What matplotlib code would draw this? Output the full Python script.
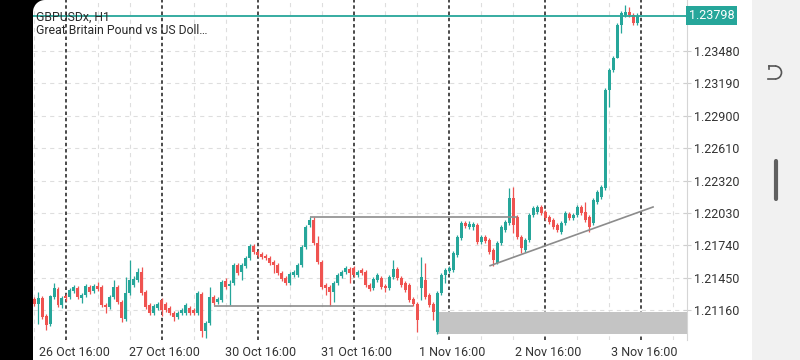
import numpy as np
import matplotlib
matplotlib.use('Agg')
import matplotlib.pyplot as plt
from matplotlib.patches import Rectangle, Polygon, Arc
from matplotlib.lines import Line2D

plt.rcParams['font.family'] = ['Roboto', 'DejaVu Sans']
plt.rcParams['lines.scale_dashes'] = False

# GBPUSDx H1 candles (26 Oct 08:00 .. 3 Nov 15:00)
opens = [
    1.21259, 1.21214, 1.21268, 1.21106, 1.21035, 1.21276, 1.21348, 1.21205, 1.21285, 1.21276,
    1.21330, 1.21357, 1.21268, 1.21294, 1.21366, 1.21330, 1.21375, 1.21366, 1.21205, 1.21187,
    1.21276, 1.21366, 1.21232, 1.21079, 1.21312, 1.21384, 1.21429, 1.21500, 1.21321, 1.21205,
    1.21133, 1.21178, 1.21250, 1.21214, 1.21178, 1.21133, 1.21097, 1.21133, 1.21133, 1.21178,
    1.21160, 1.21133, 1.21303, 1.20972, 1.21043, 1.21276, 1.21232, 1.21250, 1.21420, 1.21375,
    1.21402, 1.21563, 1.21500, 1.21554, 1.21626, 1.21733, 1.21680, 1.21662, 1.21644, 1.21626,
    1.21590, 1.21563, 1.21492, 1.21447, 1.21402, 1.21474, 1.21474, 1.21563, 1.21724, 1.21922,
    1.21966, 1.21760, 1.21590, 1.21384, 1.21366, 1.21321, 1.21402, 1.21465, 1.21500, 1.21527,
    1.21536, 1.21474, 1.21518, 1.21500, 1.21384, 1.21357, 1.21429, 1.21447, 1.21375, 1.21357,
    1.21456, 1.21527, 1.21447, 1.21402, 1.21384, 1.21259, 1.21214, 1.21357, 1.21429, 1.21294,
    1.21214, 1.20963, 1.21312, 1.21474, 1.21509, 1.21518, 1.21653, 1.21805, 1.21940, 1.21904,
    1.21904, 1.21922, 1.21769, 1.21814, 1.21787, 1.21698, 1.21581, 1.21760, 1.21877, 1.21940,
    1.22164, 1.21993, 1.21814, 1.21698, 1.21787, 1.22011, 1.22038, 1.22083, 1.22038, 1.21993,
    1.21966, 1.21922, 1.21859, 1.21940, 1.22020, 1.21984, 1.22011, 1.22083, 1.22038, 1.21993,
    1.21940, 1.22128, 1.22172, 1.22253, 1.23131, 1.23310, 1.23418, 1.23714, 1.23803, 1.23830,
    1.23803, 1.23732]
highs = [
    1.21276, 1.21321, 1.21285, 1.21124, 1.21294, 1.21402, 1.21366, 1.21285, 1.21303, 1.21357,
    1.21384, 1.21375, 1.21312, 1.21393, 1.21384, 1.21393, 1.21411, 1.21384, 1.21223, 1.21294,
    1.21429, 1.21384, 1.21250, 1.21456, 1.21608, 1.21465, 1.21536, 1.21545, 1.21339, 1.21223,
    1.21214, 1.21232, 1.21268, 1.21232, 1.21196, 1.21151, 1.21151, 1.21178, 1.21223, 1.21196,
    1.21178, 1.21330, 1.21321, 1.21061, 1.21366, 1.21294, 1.21276, 1.21429, 1.21447, 1.21429,
    1.21581, 1.21581, 1.21581, 1.21644, 1.21751, 1.21751, 1.21698, 1.21680, 1.21662, 1.21644,
    1.21608, 1.21581, 1.21509, 1.21465, 1.21500, 1.21518, 1.21581, 1.21742, 1.21922, 1.21993,
    1.21993, 1.21823, 1.21608, 1.21402, 1.21384, 1.21420, 1.21492, 1.21518, 1.21554, 1.21545,
    1.21554, 1.21518, 1.21536, 1.21518, 1.21402, 1.21456, 1.21492, 1.21465, 1.21393, 1.21474,
    1.21608, 1.21545, 1.21465, 1.21420, 1.21402, 1.21276, 1.21232, 1.21635, 1.21581, 1.21312,
    1.21232, 1.21330, 1.21492, 1.21536, 1.21554, 1.21689, 1.21832, 1.21957, 1.21957, 1.21957,
    1.21949, 1.21940, 1.21832, 1.21832, 1.21805, 1.21716, 1.21778, 1.21922, 1.21966, 1.22253,
    1.22262, 1.22011, 1.21832, 1.21805, 1.22029, 1.22092, 1.22101, 1.22101, 1.22056, 1.22011,
    1.21984, 1.21940, 1.21957, 1.22047, 1.22038, 1.22029, 1.22101, 1.22101, 1.22128, 1.22011,
    1.22164, 1.22235, 1.22280, 1.23149, 1.23328, 1.23436, 1.23732, 1.23839, 1.23893, 1.23875,
    1.23821, 1.23821]
lows = [
    1.21196, 1.21035, 1.21079, 1.20981, 1.21017, 1.21259, 1.21187, 1.21178, 1.21241, 1.21259,
    1.21312, 1.21259, 1.21223, 1.21276, 1.21303, 1.21312, 1.21330, 1.21187, 1.21133, 1.21169,
    1.21259, 1.21214, 1.21052, 1.21061, 1.21294, 1.21366, 1.21411, 1.21294, 1.21169, 1.21115,
    1.21115, 1.21160, 1.21106, 1.21142, 1.21115, 1.21061, 1.21079, 1.21115, 1.21115, 1.21115,
    1.21115, 1.21115, 1.20918, 1.20909, 1.21026, 1.21205, 1.21214, 1.21232, 1.21348, 1.21205,
    1.21384, 1.21474, 1.21429, 1.21536, 1.21608, 1.21662, 1.21635, 1.21617, 1.21608, 1.21563,
    1.21492, 1.21474, 1.21420, 1.21384, 1.21384, 1.21456, 1.21456, 1.21545, 1.21707, 1.21904,
    1.21742, 1.21572, 1.21348, 1.21294, 1.21196, 1.21232, 1.21384, 1.21447, 1.21483, 1.21402,
    1.21456, 1.21456, 1.21474, 1.21366, 1.21330, 1.21339, 1.21411, 1.21348, 1.21321, 1.21339,
    1.21438, 1.21429, 1.21366, 1.21321, 1.21232, 1.21196, 1.20963, 1.21250, 1.21259, 1.21187,
    1.21070, 1.20945, 1.21294, 1.21402, 1.21492, 1.21500, 1.21635, 1.21787, 1.21895, 1.21886,
    1.21877, 1.21751, 1.21751, 1.21760, 1.21662, 1.21554, 1.21572, 1.21742, 1.21859, 1.21922,
    1.21850, 1.21796, 1.21671, 1.21680, 1.21769, 1.21993, 1.22020, 1.22011, 1.21966, 1.21931,
    1.21886, 1.21859, 1.21841, 1.21922, 1.21966, 1.21966, 1.21993, 1.22011, 1.21949, 1.21859,
    1.21922, 1.22110, 1.22155, 1.22235, 1.22979, 1.23292, 1.23418, 1.23642, 1.23785, 1.23785,
    1.23714, 1.23714]
closes = [
    1.21214, 1.21268, 1.21097, 1.21026, 1.21285, 1.21357, 1.21205, 1.21268, 1.21268, 1.21339,
    1.21366, 1.21276, 1.21294, 1.21375, 1.21321, 1.21375, 1.21348, 1.21205, 1.21187, 1.21276,
    1.21366, 1.21232, 1.21088, 1.21312, 1.21429, 1.21438, 1.21500, 1.21312, 1.21187, 1.21133,
    1.21196, 1.21214, 1.21160, 1.21160, 1.21133, 1.21097, 1.21133, 1.21160, 1.21205, 1.21133,
    1.21133, 1.21312, 1.20972, 1.21043, 1.21276, 1.21223, 1.21259, 1.21411, 1.21366, 1.21393,
    1.21563, 1.21492, 1.21563, 1.21626, 1.21733, 1.21680, 1.21653, 1.21635, 1.21626, 1.21581,
    1.21563, 1.21492, 1.21438, 1.21402, 1.21483, 1.21500, 1.21563, 1.21724, 1.21904, 1.21966,
    1.21760, 1.21590, 1.21366, 1.21357, 1.21321, 1.21402, 1.21474, 1.21500, 1.21536, 1.21492,
    1.21474, 1.21500, 1.21492, 1.21384, 1.21348, 1.21438, 1.21474, 1.21366, 1.21357, 1.21456,
    1.21527, 1.21447, 1.21384, 1.21339, 1.21250, 1.21214, 1.21070, 1.21456, 1.21276, 1.21205,
    1.21142, 1.21312, 1.21474, 1.21518, 1.21536, 1.21671, 1.21814, 1.21940, 1.21913, 1.21931,
    1.21931, 1.21769, 1.21814, 1.21778, 1.21680, 1.21608, 1.21760, 1.21904, 1.21949, 1.22164,
    1.21922, 1.21814, 1.21716, 1.21787, 1.22011, 1.22074, 1.22083, 1.22029, 1.21984, 1.21949,
    1.21904, 1.21877, 1.21940, 1.22029, 1.21984, 1.22011, 1.22083, 1.22029, 1.21966, 1.21904,
    1.22146, 1.22217, 1.22262, 1.23131, 1.23310, 1.23418, 1.23714, 1.23821, 1.23830, 1.23803,
    1.23732, 1.23798]

day_ticks = [8, 32, 56, 80, 104, 128, 152]
day_labels = ['26 Oct 16:00', '27 Oct 16:00', '30 Oct 16:00', '31 Oct 16:00',
              '1 Nov 16:00', '2 Nov 16:00', '3 Nov 16:00']
price_ticks = [1.21160, 1.21450, 1.21740, 1.22030, 1.22320, 1.22610, 1.22900, 1.23190, 1.23480]
last_price = 1.23798

# drawn objects on the chart
resist_level, resist_span = 1.21993, (69, 121)
support_level, support_span = 1.21196, (45, 95)
trend_x, trend_y = [114.2, 155.0], [1.21557, 1.22083]
zone_start, zone_low, zone_high = 101, 1.20945, 1.21145

TEAL = '#26a69a'
RED = '#ef5350'
XMAX = 163.5

fig = plt.figure(figsize=(8, 3.6), dpi=100)
fig.patch.set_facecolor('white')
ax = fig.add_axes([33 / 800, 20 / 360, 654 / 800, 340 / 360])
ax.set_xlim(-0.26, XMAX)
ax.set_ylim(1.20891, 1.23938)

# grid
for p in price_ticks:
    ax.axhline(p, color='#dedede', lw=0.8, ls=(0, (3, 3)), zorder=1)
for i in range(0, int(XMAX) + 1, 8):
    if (i - 8) % 24 == 0:
        ax.axvline(i, color='#1a1a1a', lw=1.1, ls=(0, (2.5, 2)), zorder=1.5)
    else:
        ax.axvline(i, color='#dedede', lw=0.8, ls=(0, (3, 3)), zorder=1)

# zone box
ax.add_patch(Rectangle((zone_start, zone_low), XMAX - zone_start + 1, zone_high - zone_low,
                       facecolor='#c4c4c4', edgecolor='none', zorder=2))

# candles
x = np.arange(len(closes))
o = np.array(opens)
c = np.array(closes)
cols = np.where(c >= o, TEAL, RED)
ax.vlines(x, lows, highs, colors=cols, lw=0.9, zorder=3)
ax.bar(x, np.maximum(np.abs(c - o), 0.00008), bottom=np.minimum(o, c),
       width=0.75, color=cols, linewidth=0, zorder=4)

# lines drawn by the user
ax.hlines(resist_level, *resist_span, color='#8c8c8c', lw=1.2, zorder=5)
ax.hlines(support_level, *support_span, color='#8c8c8c', lw=1.2, zorder=5)
ax.plot(trend_x, trend_y, color='#8c8c8c', lw=1.2, zorder=5)

# current price
ax.axhline(last_price, color=TEAL, lw=1.3, zorder=6)
ax.text(1.003, last_price, f'{last_price:.5f}', transform=ax.get_yaxis_transform(),
        ha='left', va='center', fontsize=9, color='white', clip_on=False, zorder=7,
        bbox=dict(boxstyle='square,pad=0.22', facecolor=TEAL, edgecolor='none'))

# axes styling
for s in ['top', 'left', 'bottom']:
    ax.spines[s].set_visible(False)
ax.spines['right'].set_color('#d5d5d5')
ax.spines['right'].set_linewidth(0.8)
ax.yaxis.tick_right()
ax.set_yticks(price_ticks)
ax.set_yticklabels([f'{p:.5f}' for p in price_ticks])
ax.tick_params(axis='y', direction='inout', length=6, width=0.8, color='#cfcfcf',
               labelsize=9, labelcolor='#333333', pad=2)
ax.set_xticks([])
for t, lab in zip(day_ticks, day_labels):
    xc = 10.0 if t == 8 else t + 0.7
    ax.text(xc, -12 / 340, lab, transform=ax.get_xaxis_transform(), ha='center', va='center',
            fontsize=9, color='#333333', clip_on=False)

# symbol header
fig.text(36 / 800, 1 - 17 / 360, 'GBPUSDx, H1', ha='left', va='center', fontsize=8.8,
         color='#2a2a2a', zorder=12)
fig.text(36 / 800, 1 - 31 / 360, 'Great Britain Pound vs US Doll\u2026', ha='left', va='center',
         fontsize=8.8, color='#2a2a2a', zorder=12)

# phone frame: black bezel on the left with rounded screen corner
tr = fig.dpi_scale_trans
fig.patches.append(Rectangle((0, 0), 0.33, 3.6, transform=tr, facecolor='black',
                             edgecolor='none', zorder=10))
ang = np.linspace(np.pi / 2, np.pi, 20)
corner = [(0.33, 3.6)] + [(0.45 + 0.12 * np.cos(a), 3.48 + 0.12 * np.sin(a)) for a in ang]
fig.patches.append(Polygon(corner, closed=True, transform=tr, facecolor='black',
                           edgecolor='none', zorder=10))

# side panel with icons
fig.patches.append(Rectangle((7.52, 0), 0.48, 3.6, transform=tr, facecolor='#f1f1f1',
                             edgecolor='none', zorder=10))
fig.patches.append(Arc((7.75, 3.6 - 0.725), 0.13, 0.13, theta1=-90, theta2=90, transform=tr,
                       color='#555555', lw=1.2, zorder=11))
fig.lines.append(Line2D([7.69, 7.75], [3.6 - 0.66, 3.6 - 0.66], transform=tr, color='#555555',
                        lw=1.2, zorder=11))
fig.lines.append(Line2D([7.69, 7.69], [3.6 - 0.66, 3.6 - 0.685], transform=tr, color='#555555',
                        lw=1.2, zorder=11))
fig.lines.append(Line2D([7.68, 7.75], [3.6 - 0.79, 3.6 - 0.79], transform=tr, color='#555555',
                        lw=1.2, zorder=11))
fig.lines.append(Line2D([7.76, 7.76], [3.6 - 1.61, 3.6 - 1.99], transform=tr, color='#606060',
                        lw=3, solid_capstyle='round', zorder=11))

fig.savefig('out.png', dpi=100)
